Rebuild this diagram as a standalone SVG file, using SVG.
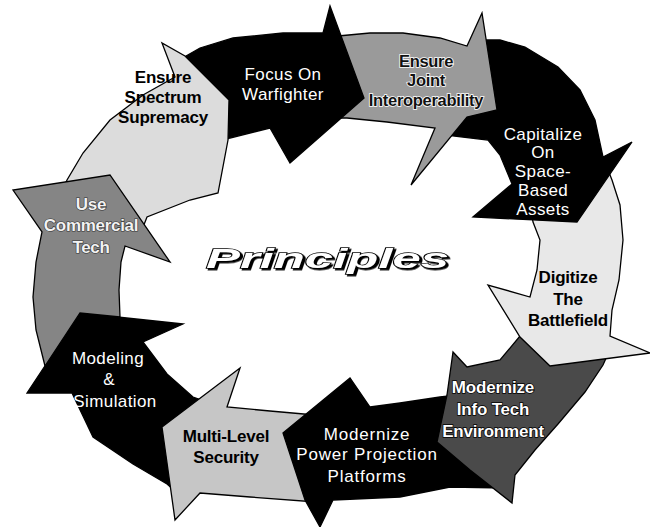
<svg xmlns="http://www.w3.org/2000/svg" width="650" height="527" viewBox="0 0 650 527">
<defs>
<filter id="shadow" x="-5%" y="-20%" width="110%" height="140%">
<feDropShadow dx="2" dy="1.6" stdDeviation="0" flood-color="#000" flood-opacity="1"/>
</filter>
</defs>
<style>
.seg{stroke:#000;stroke-width:1.3;stroke-linejoin:miter}
.blk{fill:#000}
.lt{fill:#dcdcdc}
.lt2{fill:#e8e8e8}
.ml{fill:#c6c6c6}
.md{fill:#9a9a9a}
.md2{fill:#858585}
.dk{fill:#4a4a4a}
text{font-family:"Liberation Sans",Arial,Helvetica,sans-serif;text-anchor:middle;font-size:17px}
.wt{fill:#fff;letter-spacing:0.4px}
.bt{fill:#000;font-weight:bold;letter-spacing:-0.2px}
.halo{fill:#111;font-weight:bold;stroke:#fff;stroke-width:1.6px;paint-order:stroke;font-size:16.5px;letter-spacing:-0.3px}
.wo{fill:#fff;font-weight:bold;stroke:#000;stroke-width:1.4px;paint-order:stroke;letter-spacing:-0.2px}
.uct{fill:#f2f2f2;font-weight:bold;stroke:#333;stroke-width:1.2px;paint-order:stroke;letter-spacing:-0.3px}
.title{font-size:28px;font-weight:bold;font-style:italic;fill:#fff;stroke:#000;stroke-width:1.3px;paint-order:stroke}
</style>

<g id="modeling-simulation">
<path class="seg blk" d="M185,500 L167,484 L133,464 L93,437 L72,393 L27,393 L80,313 L183,324 L143,342 L167,374 L193,397 L215,405 Z"/>
<text class="wt" x="108" y="364">Modeling</text>
<text class="wt" x="109" y="385">&amp;</text>
<text class="wt" x="115" y="407">Simulation</text>
</g>

<g id="multi-level-security">
<path class="seg ml" d="M315,415 L270,411 L227,407 L240,368 L162,427 L175,520 L200,493 L250,497 L316,502 Z"/>
<text class="bt" x="226" y="442">Multi-Level</text>
<text class="bt" x="226" y="463">Security</text>
</g>

<g id="modernize-power-projection">
<path class="seg blk" d="M458,395 L440,397 L400,403 L370,407 L350,378 L283,433 L305,500 L320,527 L333,500 L400,497 L450,487 L505,488 Z"/>
<text class="wt" x="367" y="440" style="letter-spacing:0.8px">Modernize</text>
<text class="wt" x="367" y="460" style="letter-spacing:0.8px">Power Projection</text>
<text class="wt" x="367" y="482" style="letter-spacing:0.8px">Platforms</text>
</g>

<g id="modernize-info-tech">
<path class="seg dk" d="M612,345 L603,365 L585,392 L558,424 L535,450 L515,475 L512,503 L470,470 L437,442 L447,395 L453,352 L467,367 L500,360 L525,330 Z"/>
<text class="wo" x="493" y="393">Modernize</text>
<text class="wo" x="493" y="415">Info Tech</text>
<text class="wo" x="493" y="437">Environment</text>
</g>

<g id="digitize-battlefield">
<path class="seg lt2" d="M606,165 L612,180 L620,205 L623,240 L619,280 L612,310 L610,336 L650,353 L550,366 L520,337 L488,285 L530,297 L537,270 L540,240 L533,222 L530,205 Z"/>
<text class="bt" x="568" y="283">Digitize</text>
<text class="bt" x="568" y="305">The</text>
<text class="bt" x="568" y="326">Battlefield</text>
</g>

<g id="capitalize-space">
<path class="seg blk" d="M478,40 L500,40 L525,47 L558,67 L580,90 L595,120 L603,157 L632,142 L577,222 L473,217 L512,184 L500,155 L488,140 L445,135 Z"/>
<text class="wt" x="543" y="140">Capitalize</text>
<text class="wt" x="543" y="158">On</text>
<text class="wt" x="543" y="177">Space-</text>
<text class="wt" x="543" y="196">Based</text>
<text class="wt" x="543" y="215">Assets</text>
</g>

<g id="ensure-joint">
<path class="seg md" d="M338,36 L370,33 L403,33 L440,38 L467,46 L482,13 L497,110 L467,117 L411,185 L435,128 L387,122 L347,118 L330,118 Z"/>
<text class="halo" x="426" y="67">Ensure</text>
<text class="halo" x="426" y="86">Joint</text>
<text class="halo" x="426" y="106">Interoperability</text>
</g>

<g id="focus-warfighter">
<path class="seg blk" d="M186,56 L200,48 L233,38 L283,33 L323,33 L330,6 L364,98 L290,163 L270,128 L230,138 L200,150 Z"/>
<text class="wt" x="283" y="80">Focus On</text>
<text class="wt" x="283" y="100">Warfighter</text>
</g>

<g id="ensure-spectrum">
<path class="seg lt" d="M58,200 L67,180 L83,153 L110,120 L143,95 L175,77 L162,43 L185,56 L229,100 L228,140 L218,193 L190,200 L147,217 L140,235 Z"/>
<text class="bt" x="163" y="83">Ensure</text>
<text class="bt" x="163" y="103">Spectrum</text>
<text class="bt" x="163" y="123">Supremacy</text>
</g>

<g id="use-commercial-tech">
<path class="seg md2" d="M45,366 L36,330 L33,297 L36,262 L42,232 L13,190 L110,175 L170,262 L125,246 L121,262 L119,290 L120,317 L80,313 Z"/>
<text class="uct" x="91" y="210">Use</text>
<text class="uct" x="91" y="231">Commercial</text>
<text class="uct" x="91" y="253">Tech</text>
</g>

<g id="principles">
<text class="title" x="327.5" y="268" textLength="243" lengthAdjust="spacingAndGlyphs" filter="url(#shadow)">Principles</text>
</g>
</svg>
